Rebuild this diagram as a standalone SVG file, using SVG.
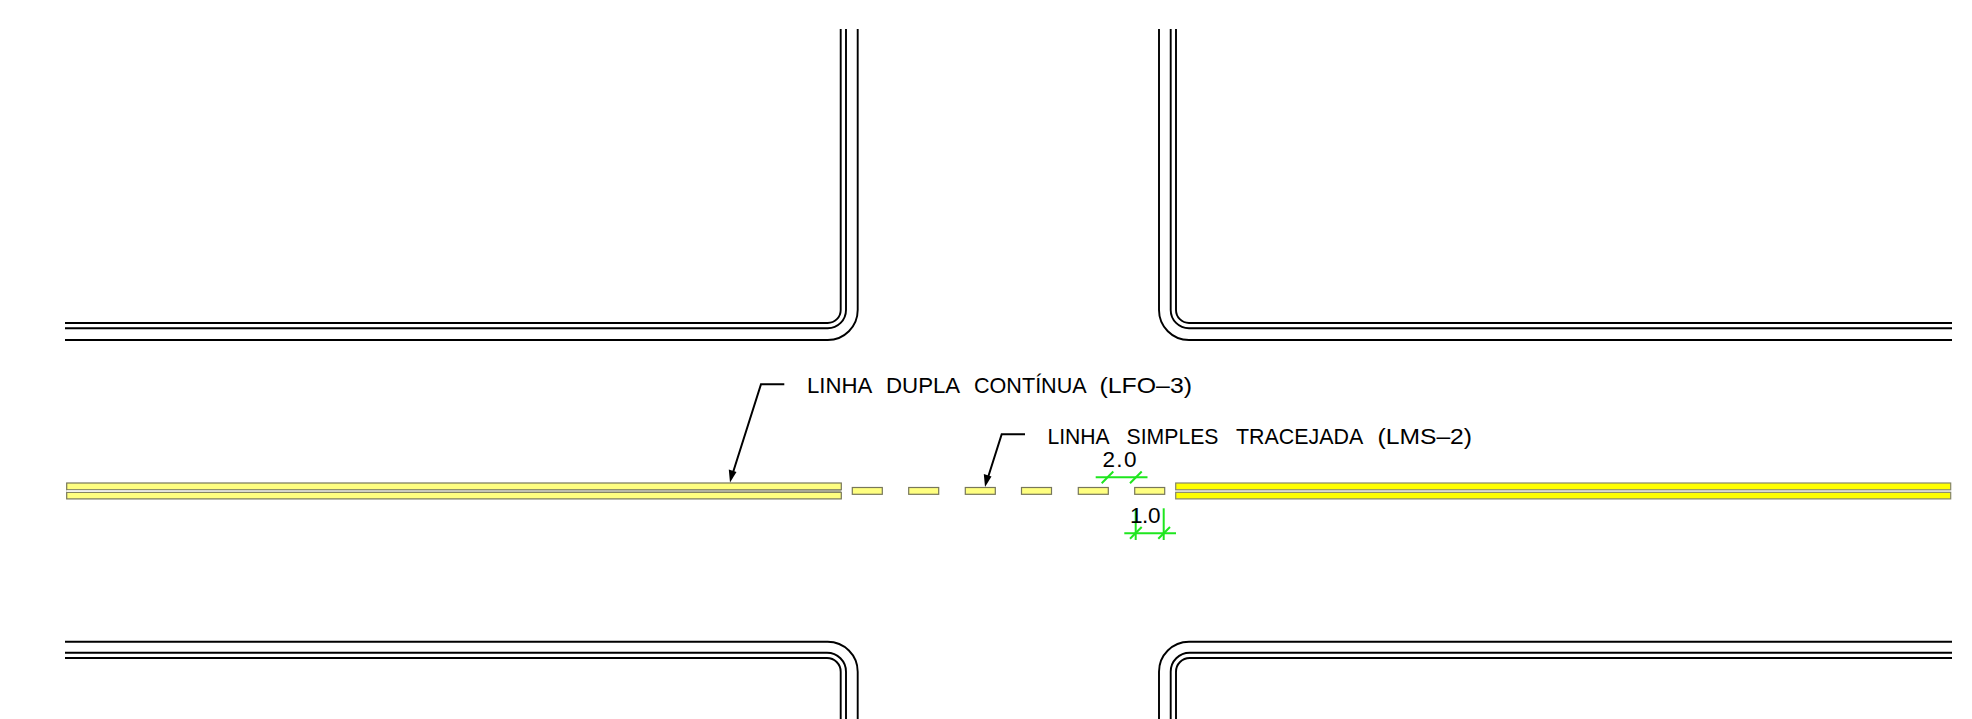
<svg xmlns="http://www.w3.org/2000/svg" width="1972" height="719" viewBox="0 0 1972 719">
<defs>
<linearGradient id="gapfade" x1="66" y1="0" x2="841" y2="0" gradientUnits="userSpaceOnUse">
<stop offset="0" stop-color="#fff"/><stop offset="0.2" stop-color="#e0e0d8"/><stop offset="1" stop-color="#909078"/>
</linearGradient>
</defs>
<style>
.kerb path{fill:none;stroke:#000;stroke-width:1.9}
.lead{fill:none;stroke:#000;stroke-width:2}
.dim{fill:none;stroke:#1ee61e;stroke-width:2}
.pale{fill:#ffff80;stroke:#77775a;stroke-width:1.2}
.full{fill:#ffff00;stroke:#85856a;stroke-width:1.2}
text{font-family:"Liberation Sans",Arial,sans-serif;font-size:22.5px;fill:#000}
</style>
<rect width="1972" height="719" fill="#fff"/>
<g id="kerbs">
<g id="kerb-top-left" class="kerb">
<path d="M857.7 29V310A30 30 0 0 1 827.7 340H65"/>
<path d="M846 29V310A18.3 18.3 0 0 1 827.7 328.3H65"/>
<path d="M840.7 29V310A13 13 0 0 1 827.7 323H65"/>
</g>
<g id="kerb-top-right" class="kerb">
<path d="M1159 29V310A30 30 0 0 0 1189 340H1952"/>
<path d="M1170.7 29V310A18.3 18.3 0 0 0 1189 328.3H1952"/>
<path d="M1176 29V310A13 13 0 0 0 1189 323H1952"/>
</g>
<g id="kerb-bottom-left" class="kerb">
<path d="M857.7 719V671.7A30 30 0 0 0 827.7 641.7H65"/>
<path d="M846 719V671.7A19 19 0 0 0 827 652.7H65"/>
<path d="M840.7 719V671.7A13.7 13.7 0 0 0 827 658H65"/>
</g>
<g id="kerb-bottom-right" class="kerb">
<path d="M1159 719V671.7A30 30 0 0 1 1189 641.7H1952"/>
<path d="M1170.7 719V671.7A19 19 0 0 1 1189.7 652.7H1952"/>
<path d="M1176 719V671.7A13.7 13.7 0 0 1 1189.7 658H1952"/>
</g>
</g>
<g id="marking-double-left">
<rect class="pale" x="66.7" y="483" width="774.6" height="6.8"/>
<rect class="pale" x="66.7" y="492.3" width="774.6" height="6.6"/>
<rect x="67" y="490.4" width="774" height="1.3" fill="url(#gapfade)"/>
</g>
<g id="marking-double-right">
<rect class="full" x="1175.7" y="483" width="775" height="6.8"/>
<rect class="full" x="1175.7" y="492.3" width="775" height="6.6"/>
</g>
<g id="marking-dashed">
<rect class="pale" x="852.3" y="487.5" width="30" height="6.8"/>
<rect class="pale" x="908.7" y="487.5" width="30" height="6.8"/>
<rect class="pale" x="965.3" y="487.5" width="30" height="6.8"/>
<rect class="pale" x="1021.5" y="487.5" width="30" height="6.8"/>
<rect class="pale" x="1078.3" y="487.5" width="30" height="6.8"/>
<rect class="pale" x="1134.7" y="487.5" width="30" height="6.8"/>
</g>
<g id="connectors">
<path class="lead" d="M784.3 384.3H761L732.5 474"/>
<polygon points="730,482.5 728.8,469.5 736.5,472" fill="#000"/>
<path class="lead" d="M1025 434.3H1001.7L987.5 479"/>
<polygon points="985,487 983.8,474 991.5,476.5" fill="#000"/>
<g id="dim-2-0" class="dim">
<path d="M1095.7 477.3H1147.5"/>
<path d="M1101.7 483.3L1113.3 471.5"/>
<path d="M1130 483.3L1141.7 471.5"/>
</g>
<g id="dim-1-0" class="dim">
<path d="M1124.3 533.3H1176"/>
<path d="M1130 538.8L1141.7 527"/>
<path d="M1158.3 538.8L1170 527"/>
<path d="M1135.7 510V540"/>
<path d="M1163.7 508.3V540"/>
</g>
</g>
<g id="labels">
<text y="393.3"><tspan x="807" textLength="64" lengthAdjust="spacingAndGlyphs">LINHA</tspan> <tspan x="886" textLength="73" lengthAdjust="spacingAndGlyphs">DUPLA</tspan> <tspan x="974" textLength="111.5" lengthAdjust="spacingAndGlyphs">CONTÍNUA</tspan> <tspan x="1099.5" textLength="92.5" lengthAdjust="spacingAndGlyphs">(LFO–3)</tspan></text>
<text y="444"><tspan x="1047.5" textLength="61" lengthAdjust="spacingAndGlyphs">LINHA</tspan> <tspan x="1126.5" textLength="92" lengthAdjust="spacingAndGlyphs">SIMPLES</tspan> <tspan x="1236" textLength="126" lengthAdjust="spacingAndGlyphs">TRACEJADA</tspan> <tspan x="1377.5" textLength="94.5" lengthAdjust="spacingAndGlyphs">(LMS–2)</tspan></text>
<text x="1102.5" y="467.3" textLength="34" lengthAdjust="spacing">2.0</text>
<text x="1130" y="523.3" textLength="30.5" lengthAdjust="spacing">1.0</text>
</g>
</svg>
